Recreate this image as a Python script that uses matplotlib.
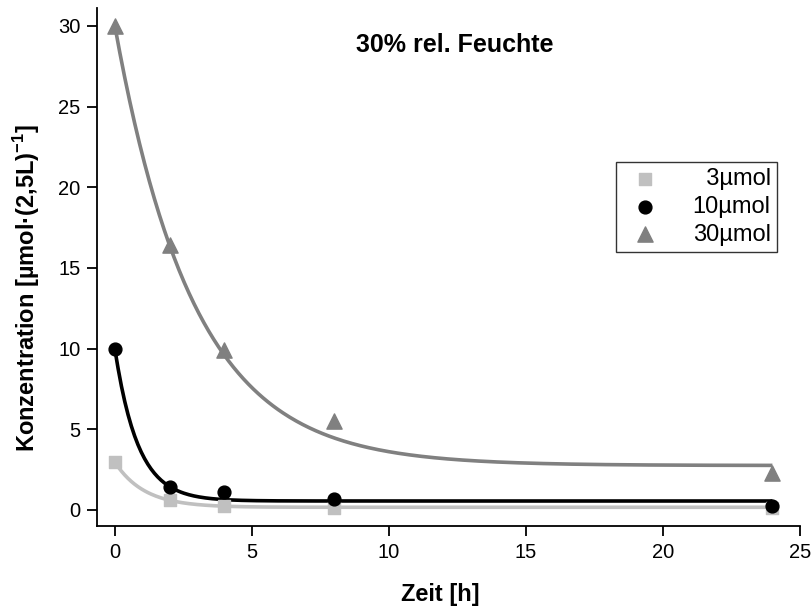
import matplotlib
matplotlib.use("Agg")
import matplotlib.pyplot as plt
import numpy as np

plt.rcParams["font.family"] = ["Liberation Sans", "DejaVu Sans"]
plt.rcParams["mathtext.fontset"] = "custom"
plt.rcParams["mathtext.rm"] = "Liberation Sans"
plt.rcParams["mathtext.bf"] = "Liberation Sans:bold"

# measured points
zeit = [0, 2, 4, 8, 24]
c3 = [2.96, 0.63, 0.26, 0.12, 0.12]
c10 = [10.0, 1.42, 1.09, 0.65, 0.22]
c30 = [30.0, 16.4, 9.9, 5.5, 2.3]

labels = ["  3µmol", "10µmol", "30µmol"]
colors = ["#c0c0c0", "#000000", "#808080"]
markers = ["s", "o", "^"]
sizes = [70, 85, 120]

# exponential fit parameters (y = c + A*exp(-k*t))
fit_c = [0.16, 0.55, 2.75]
fit_A = [2.80, 9.45, 27.25]
fit_k = [0.93, 1.18, 0.346]

fig = plt.figure(figsize=(8.12, 6.10), dpi=100)
ax = fig.add_axes([0.1195, 0.1377, 0.8655, 0.849])

t = np.linspace(0, 24, 400)
handles = []
for y, col, m, sz, lab, c, A, k in zip([c3, c10, c30], colors, markers, sizes,
                                       labels, fit_c, fit_A, fit_k):
    ax.plot(t, c + A * np.exp(-k * t), color=col, lw=2.6, solid_capstyle="butt")
    h = ax.scatter(zeit, y, marker=m, s=sz, color=col, zorder=3, label=lab,
                   clip_on=False)
    handles.append(h)

ax.set_xlim(-0.65, 25)
ax.set_ylim(-1.0, 31.1)
ax.set_xticks([0, 5, 10, 15, 20, 25])
ax.set_yticks([0, 5, 10, 15, 20, 25, 30])
for s in ["top", "right"]:
    ax.spines[s].set_visible(False)
for s in ["left", "bottom"]:
    ax.spines[s].set_linewidth(1.3)
ax.tick_params(direction="out", length=7, width=1.3, labelsize=14.5, pad=5)

ax.set_xlabel("Zeit [h]", fontsize=17, fontweight="bold")
ax.set_ylabel(r"Konzentration [µmol·(2,5L)$^{\mathbf{-1}}$]", fontsize=17,
              fontweight="bold")
ax.xaxis.set_label_coords(0.488, -0.11)
ax.yaxis.set_label_coords(-0.078, 0.46)

ax.text(0.509, 0.929, "30% rel. Feuchte", transform=ax.transAxes,
        ha="center", va="center", fontsize=18, fontweight="bold")

leg = ax.legend(handles=handles, loc="upper right",
                bbox_to_anchor=(0.967, 0.703), fontsize=17, frameon=True,
                fancybox=False, edgecolor="black", handletextpad=1.0,
                borderpad=0.25, labelspacing=0.25, borderaxespad=0,
                scatterpoints=1)
leg.get_frame().set_linewidth(1.0)

fig.savefig("out.png", dpi=100)
